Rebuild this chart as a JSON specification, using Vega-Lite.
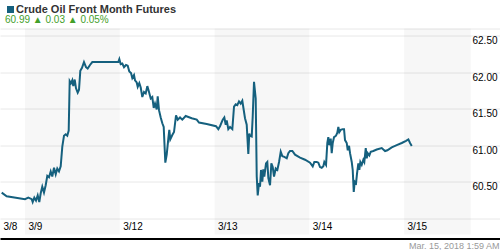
{
  "$schema": "https://vega.github.io/schema/vega-lite/v6.json",
  "width": 500,
  "height": 206,
  "autosize": {"type": "none"},
  "padding": {"left": 0, "right": 0, "top": 28.5, "bottom": 15.5},
  "background": "white",
  "title": {
    "text": "60.99 ▲ 0.03  ▲ 0.05%",
    "anchor": "start",
    "frame": "group",
    "orient": "top",
    "offset": -29,
    "dx": 5,
    "font": "Liberation Sans",
    "fontSize": 10,
    "fontWeight": "normal",
    "color": "#44a02a",
    "baseline": "alphabetic"
  },
  "datasets": {
    "bands": [
      {"h": 0, "h2": 24},
      {"h": 48, "h2": 72},
      {"h": 96, "h2": 112.9}
    ],
    "prices": [
      {"h": -5.90, "v": 60.35}, {"h": -4.64, "v": 60.30}, {"h": 0.00, "v": 60.26}, {"h": 0.84, "v": 60.28},
      {"h": 1.70, "v": 60.26}, {"h": 1.95, "v": 60.22}, {"h": 2.36, "v": 60.28}, {"h": 2.79, "v": 60.24},
      {"h": 3.22, "v": 60.31}, {"h": 3.62, "v": 60.22}, {"h": 3.98, "v": 60.34}, {"h": 4.38, "v": 60.43},
      {"h": 4.81, "v": 60.35}, {"h": 5.24, "v": 60.45}, {"h": 5.65, "v": 60.58}, {"h": 6.08, "v": 60.56},
      {"h": 6.51, "v": 60.64}, {"h": 6.91, "v": 60.57}, {"h": 7.35, "v": 60.69}, {"h": 7.78, "v": 60.60},
      {"h": 8.18, "v": 60.68}, {"h": 8.61, "v": 60.64}, {"h": 9.04, "v": 60.71}, {"h": 9.45, "v": 60.98},
      {"h": 9.88, "v": 61.13}, {"h": 10.31, "v": 61.15}, {"h": 10.71, "v": 61.13}, {"h": 11.07, "v": 61.20},
      {"h": 11.32, "v": 61.88}, {"h": 11.65, "v": 61.85}, {"h": 11.98, "v": 61.89}, {"h": 12.23, "v": 61.81},
      {"h": 12.59, "v": 61.90}, {"h": 12.92, "v": 61.78}, {"h": 13.35, "v": 61.72}, {"h": 13.68, "v": 61.76},
      {"h": 14.01, "v": 62.02}, {"h": 14.44, "v": 62.06}, {"h": 14.94, "v": 62.14}, {"h": 15.45, "v": 62.07},
      {"h": 15.88, "v": 62.05}, {"h": 16.46, "v": 62.10}, {"h": 17.05, "v": 62.14}, {"h": 23.63, "v": 62.14},
      {"h": 23.89, "v": 62.18}, {"h": 24.24, "v": 62.11}, {"h": 24.65, "v": 62.12}, {"h": 25.08, "v": 62.07},
      {"h": 25.58, "v": 62.10}, {"h": 26.01, "v": 62.09}, {"h": 26.42, "v": 62.01}, {"h": 26.85, "v": 61.99},
      {"h": 27.18, "v": 61.92}, {"h": 27.61, "v": 61.96}, {"h": 27.86, "v": 61.89}, {"h": 28.29, "v": 61.86},
      {"h": 28.55, "v": 61.80}, {"h": 28.95, "v": 61.85}, {"h": 29.31, "v": 61.79}, {"h": 29.71, "v": 61.66},
      {"h": 30.14, "v": 61.73}, {"h": 30.57, "v": 61.71}, {"h": 30.98, "v": 61.81}, {"h": 31.41, "v": 61.73},
      {"h": 31.84, "v": 61.64}, {"h": 32.24, "v": 61.66}, {"h": 32.60, "v": 61.51}, {"h": 32.93, "v": 61.57},
      {"h": 33.36, "v": 61.49}, {"h": 33.61, "v": 61.67}, {"h": 33.94, "v": 61.48}, {"h": 34.37, "v": 61.38},
      {"h": 34.78, "v": 61.30}, {"h": 35.13, "v": 61.25}, {"h": 35.54, "v": 60.76}, {"h": 35.89, "v": 60.87},
      {"h": 36.30, "v": 61.09}, {"h": 36.55, "v": 61.21}, {"h": 36.80, "v": 61.08}, {"h": 37.31, "v": 61.14},
      {"h": 37.74, "v": 61.18}, {"h": 38.25, "v": 61.41}, {"h": 38.68, "v": 61.35}, {"h": 39.26, "v": 61.38},
      {"h": 39.84, "v": 61.35}, {"h": 40.70, "v": 61.40}, {"h": 42.22, "v": 61.37}, {"h": 43.49, "v": 61.35},
      {"h": 44.07, "v": 61.31}, {"h": 46.02, "v": 61.29}, {"h": 48.38, "v": 61.26}, {"h": 48.96, "v": 61.22},
      {"h": 49.39, "v": 61.26}, {"h": 50.08, "v": 61.35}, {"h": 50.48, "v": 61.38}, {"h": 50.84, "v": 61.28},
      {"h": 51.09, "v": 61.34}, {"h": 51.49, "v": 61.22}, {"h": 51.93, "v": 61.25}, {"h": 52.51, "v": 61.22},
      {"h": 52.94, "v": 61.53}, {"h": 53.37, "v": 61.56}, {"h": 53.77, "v": 61.55}, {"h": 54.20, "v": 61.60},
      {"h": 54.63, "v": 61.57}, {"h": 55.04, "v": 61.61}, {"h": 55.29, "v": 61.52}, {"h": 55.72, "v": 61.37},
      {"h": 56.15, "v": 61.28}, {"h": 56.56, "v": 60.88}, {"h": 56.81, "v": 61.16}, {"h": 56.99, "v": 61.13},
      {"h": 57.42, "v": 61.12}, {"h": 57.67, "v": 61.39}, {"h": 58.00, "v": 61.87}, {"h": 58.43, "v": 61.64},
      {"h": 58.69, "v": 60.57}, {"h": 58.94, "v": 60.31}, {"h": 59.27, "v": 60.48}, {"h": 59.52, "v": 60.43},
      {"h": 59.78, "v": 60.66}, {"h": 60.11, "v": 60.50}, {"h": 60.36, "v": 60.67}, {"h": 60.61, "v": 60.57},
      {"h": 61.04, "v": 60.75}, {"h": 61.37, "v": 60.77}, {"h": 61.63, "v": 60.55}, {"h": 62.06, "v": 60.45},
      {"h": 62.39, "v": 60.75}, {"h": 62.74, "v": 60.70}, {"h": 63.07, "v": 60.57}, {"h": 63.50, "v": 60.68},
      {"h": 63.91, "v": 60.66}, {"h": 64.34, "v": 60.77}, {"h": 64.77, "v": 60.91}, {"h": 65.17, "v": 60.85},
      {"h": 65.68, "v": 60.84}, {"h": 66.29, "v": 60.82}, {"h": 66.69, "v": 60.89}, {"h": 67.12, "v": 60.92},
      {"h": 67.71, "v": 60.92}, {"h": 68.39, "v": 60.87}, {"h": 69.66, "v": 60.83}, {"h": 70.92, "v": 60.80},
      {"h": 72.19, "v": 60.76}, {"h": 72.87, "v": 60.71}, {"h": 73.28, "v": 60.77}, {"h": 73.88, "v": 60.77},
      {"h": 74.29, "v": 60.76}, {"h": 74.72, "v": 60.70}, {"h": 75.15, "v": 60.69}, {"h": 75.56, "v": 60.71},
      {"h": 75.81, "v": 60.77}, {"h": 76.24, "v": 60.73}, {"h": 76.57, "v": 61.03}, {"h": 76.82, "v": 61.11},
      {"h": 77.08, "v": 61.00}, {"h": 77.43, "v": 61.09}, {"h": 77.68, "v": 60.89}, {"h": 77.94, "v": 61.03},
      {"h": 78.27, "v": 61.11}, {"h": 78.77, "v": 61.13}, {"h": 79.10, "v": 61.17}, {"h": 79.36, "v": 61.25},
      {"h": 79.61, "v": 61.18}, {"h": 79.96, "v": 61.21}, {"h": 80.47, "v": 61.22}, {"h": 80.80, "v": 61.22},
      {"h": 81.05, "v": 61.07}, {"h": 81.48, "v": 61.03}, {"h": 81.74, "v": 60.93}, {"h": 82.07, "v": 60.99},
      {"h": 82.32, "v": 60.89}, {"h": 82.75, "v": 60.77}, {"h": 83.00, "v": 60.66}, {"h": 83.26, "v": 60.36},
      {"h": 83.51, "v": 60.50}, {"h": 83.84, "v": 60.48}, {"h": 84.09, "v": 60.61}, {"h": 84.42, "v": 60.75},
      {"h": 84.68, "v": 60.66}, {"h": 84.93, "v": 60.77}, {"h": 85.28, "v": 60.73}, {"h": 85.69, "v": 60.80},
      {"h": 85.94, "v": 60.77}, {"h": 86.30, "v": 60.96}, {"h": 86.55, "v": 60.82}, {"h": 86.80, "v": 60.89},
      {"h": 87.21, "v": 60.86}, {"h": 87.56, "v": 60.91}, {"h": 88.22, "v": 60.92}, {"h": 89.08, "v": 60.94},
      {"h": 90.35, "v": 60.96}, {"h": 91.19, "v": 60.92}, {"h": 91.77, "v": 60.93}, {"h": 92.88, "v": 60.97},
      {"h": 94.15, "v": 61.00}, {"h": 95.42, "v": 61.03}, {"h": 96.50, "v": 61.06}, {"h": 97.09, "v": 61.08},
      {"h": 97.52, "v": 61.03}, {"h": 97.95, "v": 60.99}
    ]
  },
  "encoding": {
    "x": {
      "field": "h",
      "type": "quantitative",
      "scale": {"domain": [-6.33, 120.3], "nice": false, "zero": false},
      "axis": {
        "values": [-6.33, 0, 24, 48, 72, 96],
        "labelExpr": "datum.value < -1 ? '3/8' : datum.value < 1 ? '3/9' : datum.value < 30 ? '3/12' : datum.value < 50 ? '3/13' : datum.value < 80 ? '3/14' : '3/15'",
        "title": "Mar. 15, 2018 1:59 AM",
        "domain": true,
        "domainColor": "#000000",
        "domainWidth": 2,
        "offset": 4,
        "ticks": false,
        "grid": false,
        "labelAlign": "left",
        "labelBaseline": "top",
        "labelPadding": -17.5,
        "labelOffset": 3,
        "labelFont": "Liberation Sans",
        "labelFontSize": 10,
        "labelColor": "#000000",
        "labelFlush": false,
        "labelBound": false,
        "labelOverlap": false,
        "titleFont": "Liberation Sans",
        "titleFontSize": 9,
        "titleFontWeight": "normal",
        "titleColor": "#999999",
        "titleAlign": "right",
        "titleBaseline": "top",
        "titleX": 499,
        "titleY": 2.5
      }
    }
  },
  "layer": [
    {
      "data": {"name": "bands"},
      "mark": {"type": "rect", "color": "#000000", "opacity": 0.032},
      "encoding": {"x2": {"field": "h2"}}
    },
    {
      "data": {"name": "prices"},
      "mark": {"type": "line", "strokeWidth": 2, "interpolate": "linear"},
      "encoding": {
        "y": {
          "field": "v",
          "type": "quantitative",
          "scale": {"domain": [59.775, 62.6], "nice": false, "zero": false},
          "axis": {
            "orient": "right",
            "values": [60, 60.5, 61, 61.5, 62, 62.5, 62.6],
            "labelExpr": "datum.value >= 60.4 && datum.value <= 62.55 ? format(datum.value, '.2f') : ''",
            "title": null,
            "domain": false,
            "ticks": false,
            "grid": true,
            "gridColor": "#e8e8e8",
            "gridWidth": 1,
            "labelAlign": "left",
            "labelBaseline": "top",
            "labelPadding": -28,
            "labelOffset": 0,
            "labelFont": "Liberation Sans",
            "labelFontSize": 10,
            "labelColor": "#000000",
            "labelOverlap": false,
            "labelBound": false,
            "labelFlush": false
          }
        },
        "color": {
          "datum": "Crude Oil Front Month Futures",
          "type": "nominal",
          "scale": {"range": ["#15607e"]},
          "legend": {
            "orient": "none",
            "legendX": 5,
            "legendY": -24.5,
            "title": null,
            "padding": 0,
            "symbolType": "square",
            "symbolSize": 49,
            "symbolStrokeWidth": 0,
            "symbolFillColor": "#15607e",
            "labelFont": "Liberation Sans",
            "labelFontSize": 11,
            "labelFontWeight": "bold",
            "labelColor": "#333333",
            "labelOffset": 0,
            "labelLimit": 300,
            "encode": {
              "symbols": {"update": {"fill": {"value": "#15607e"}, "strokeWidth": {"value": 0}}}
            }
          }
        }
      }
    }
  ],
  "config": {
    "view": {"stroke": null}
  }
}
